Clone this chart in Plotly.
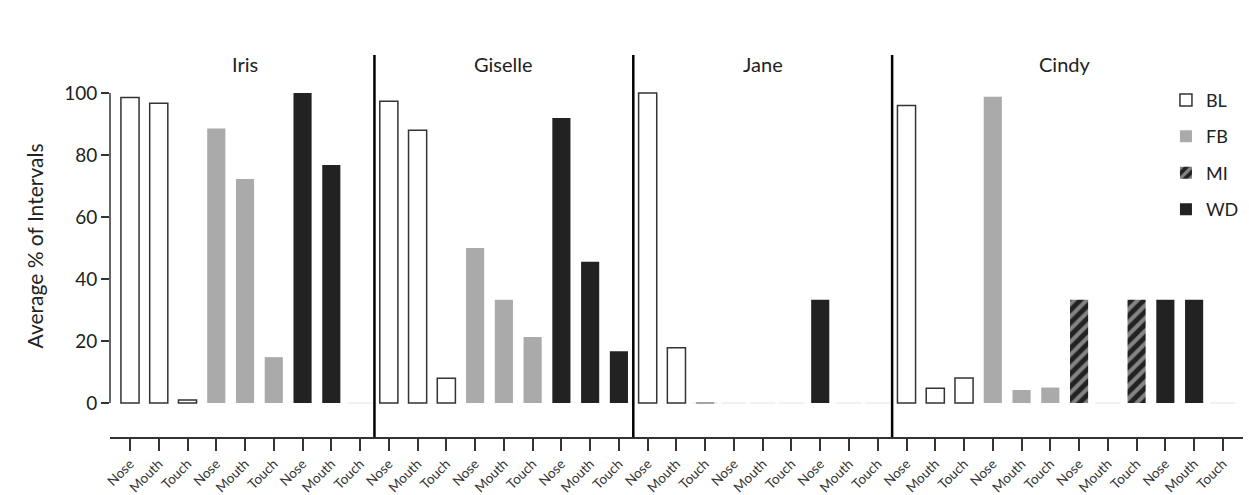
import plotly.graph_objects as go

# ---------------- data ----------------
subjects = ["Iris", "Giselle", "Jane", "Cindy"]
behaviors = ["Nose", "Mouth", "Touch"]
subject_conditions = {
    "Iris": ["BL", "FB", "WD"],
    "Giselle": ["BL", "FB", "WD"],
    "Jane": ["BL", "FB", "WD"],
    "Cindy": ["BL", "FB", "MI", "WD"],
}
iris_BL = [98.6, 96.7, 1.0]
iris_FB = [88.6, 72.3, 14.8]
iris_WD = [100.0, 76.8, 0.0]
giselle_BL = [97.4, 88.0, 8.0]
giselle_FB = [50.0, 33.3, 21.3]
giselle_WD = [92.0, 45.6, 16.7]
jane_BL = [100.0, 17.8, 0.0]
jane_FB = [0.0, 0.0, 0.0]
jane_WD = [33.3, 0.0, 0.0]
cindy_BL = [96.0, 4.8, 8.1]
cindy_FB = [98.8, 4.2, 5.0]
cindy_MI = [33.3, 0.0, 33.3]
cindy_WD = [33.3, 33.3, 0.0]

values = {
    ("Iris", "BL"): iris_BL, ("Iris", "FB"): iris_FB, ("Iris", "WD"): iris_WD,
    ("Giselle", "BL"): giselle_BL, ("Giselle", "FB"): giselle_FB, ("Giselle", "WD"): giselle_WD,
    ("Jane", "BL"): jane_BL, ("Jane", "FB"): jane_FB, ("Jane", "WD"): jane_WD,
    ("Cindy", "BL"): cindy_BL, ("Cindy", "FB"): cindy_FB, ("Cindy", "MI"): cindy_MI,
    ("Cindy", "WD"): cindy_WD,
}
y_ticks = [0, 20, 40, 60, 80, 100]

# ---------------- build positions ----------------
cond_x = {c: [] for c in ["BL", "FB", "MI", "WD"]}
cond_y = {c: [] for c in ["BL", "FB", "MI", "WD"]}
tick_labels = []
zero_x = []
group_bounds = []
idx = 0
for s in subjects:
    start = idx
    for c in subject_conditions[s]:
        for b, v in zip(behaviors, values[(s, c)]):
            cond_x[c].append(idx)
            cond_y[c].append(v)
            if v == 0:
                zero_x.append(idx)
            tick_labels.append(b)
            idx += 1
    group_bounds.append((start, idx - 1))
n = idx

styles = {
    "BL": dict(color="white", line=dict(color="#333333", width=1.5)),
    "FB": dict(color="#aaaaaa", line=dict(color="#aaaaaa", width=0)),
    "MI": dict(color="#222222", line=dict(color="#222222", width=0),
               pattern=dict(shape="/", fgcolor="#e6e6e6", bgcolor="#222222",
                            size=9, solidity=0.45, fillmode="overlay")),
    "WD": dict(color="#222222", line=dict(color="#222222", width=0)),
}

fig = go.Figure()
for i, c in enumerate(["BL", "FB", "MI", "WD"]):
    fig.add_trace(go.Bar(
        x=cond_x[c], y=cond_y[c], name=c, marker=styles[c], width=0.63,
        legendgroup=c, legendrank=i,
    ))

# faint baseline marks for zero-valued bars
fig.add_trace(go.Scatter(
    x=zero_x, y=[0] * len(zero_x), mode="markers", showlegend=False,
    marker=dict(symbol="line-ew", size=18, line=dict(color="#e4e4e4", width=1)),
    hoverinfo="skip",
))

# separators between subjects
for (a, b), (c, d) in zip(group_bounds[:-1], group_bounds[1:]):
    fig.add_shape(type="line", xref="x", yref="paper", x0=b + 0.5, x1=b + 0.5,
                  y0=0, y1=1, line=dict(color="black", width=2.5))

# subject titles
for s, (a, b) in zip(subjects, group_bounds):
    fig.add_annotation(x=(a + b) / 2, y=109.5, xref="x", yref="y", text=s,
                       showarrow=False, font=dict(size=20, color="#222222"))

# y-axis line only from 0 to 100
fig.add_shape(type="line", xref="paper", yref="y", x0=0, x1=0,
              y0=min(y_ticks), y1=max(y_ticks), line=dict(color="#333333", width=1.5))

fig.update_layout(
    width=1249, height=495,
    margin=dict(l=110, r=6, t=55, b=58, autoexpand=False),
    paper_bgcolor="white", plot_bgcolor="white",
    font=dict(family="Lato, sans-serif", color="#222222"),
    bargap=0.37,
    legend=dict(x=0.932, y=0.93, xanchor="left", yanchor="top",
                font=dict(size=18), tracegroupgap=10, traceorder="grouped",
                bgcolor="rgba(0,0,0,0)"),
    showlegend=True,
)
fig.update_xaxes(
    range=[-0.695, n - 0.3], tickmode="array", tickvals=list(range(n)),
    ticktext=tick_labels, tickangle=-45, tickfont=dict(size=13.5, color="#333333"),
    ticks="outside", ticklen=12, tickcolor="#333333", tickwidth=1.5,
    showline=True, linecolor="#333333", linewidth=1.5,
    showgrid=False, zeroline=False, automargin=False,
)
fig.update_yaxes(
    range=[-10.97, 112.3], tickmode="array", tickvals=y_ticks,
    tickfont=dict(size=19, color="#222222"), ticks="outside", ticklen=8,
    tickcolor="#333333", tickwidth=1.5, showline=False, showgrid=False,
    zeroline=False, automargin=False,
    title=dict(text="Average % of Intervals", font=dict(size=21, color="#222222"),
               standoff=14),
)

fig.write_html("out.html")
